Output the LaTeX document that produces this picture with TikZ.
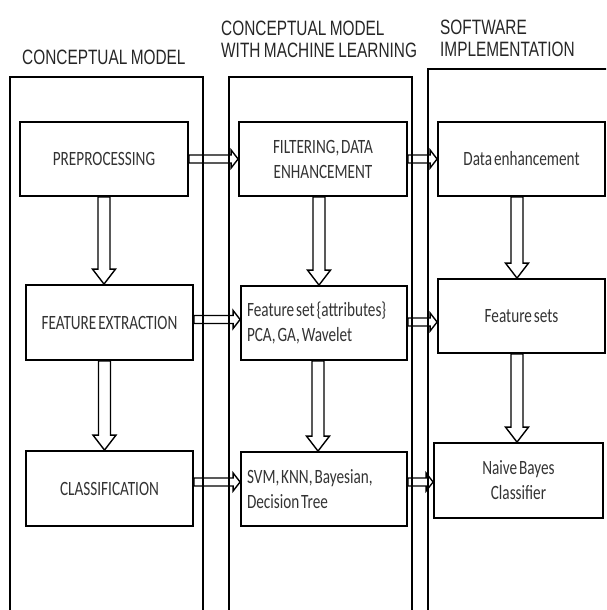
\documentclass[tikz,border=0pt]{standalone}
\usepackage{fontspec}
\newfontfamily\boxfont[FakeStretch=0.75,WordSpace=0.55]{Carlito}
\newfontfamily\titlefont[FakeStretch=0.74,WordSpace=0.8]{Liberation Sans}
\usetikzlibrary{calc}
\frenchspacing
\begin{document}
\begin{tikzpicture}[x=1pt,y=-1pt,
  box/.style={draw, line width=1.8pt, inner sep=0pt, align=center,
    font=\boxfont\fontsize{20.3}{25}\selectfont, text=black!80},
  lbox/.style={box, align=flush left, inner xsep=6pt, text width=154pt},
  title/.style={inner sep=0pt, align=left,
    font=\titlefont\fontsize{20.8}{22}\selectfont, text=black!85},
  col/.style={draw, line width=1.7pt},
  blk/.style={draw, line width=1.4pt, line join=miter},
  vblock/.style={to path={let \p1=(\tikztostart), \p2=(\tikztotarget) in
    (\x2-6pt,\y1) -- (\x2-6pt,\y2+15pt) -- (\x2-11.5pt,\y2+15pt) -- (\x2,\y2)
    -- (\x2+11.5pt,\y2+15pt) -- (\x2+6pt,\y2+15pt) -- (\x2+6pt,\y1) -- cycle}},
  hblock/.style={to path={let \p1=(\tikztostart), \p2=(\tikztotarget) in
    (\x1,\y2+4pt) -- (\x2-7pt,\y2+4pt) -- (\x2-7pt,\y2+9pt) -- (\x2,\y2)
    -- (\x2-7pt,\y2-9pt) -- (\x2-7pt,\y2-4pt) -- (\x1,\y2-4pt) -- cycle}}
]
\useasboundingbox (0,0) rectangle (606,610);

% titles
\node[title, anchor=base west] (t1) at (22,65) {CONCEPTUAL MODEL};
\node[title, anchor=north west] (t2) at (221,21) {CONCEPTUAL MODEL\\WITH MACHINE LEARNING};
\node[title, anchor=north west] (t3) at (440,20) {SOFTWARE\\IMPLEMENTATION};

% column 1
\node[box, minimum width=168, minimum height=74] (pre) at (104,159) {PREPROCESSING};
\node[box, minimum width=167, minimum height=75] (fe) at (109.5,322.5) {FEATURE EXTRACTION};
\node[box, minimum width=167, minimum height=75] (cls) at (109.5,488.5) {CLASSIFICATION};

% column 2
\node[box, minimum width=168, minimum height=74] (filt) at (323,159) {FILTERING, DATA\\ENHANCEMENT};
\node[lbox, minimum width=166, minimum height=74] (fset) at (324,323) {Feature set \{attributes\}\\PCA, GA, Wavelet};
\node[lbox, minimum width=166, minimum height=74] (svm) at (324,489) {SVM, KNN, Bayesian,\\Decision Tree};

% column 3
\node[box, minimum width=167, minimum height=74] (data) at (521.5,159) {Data enhancement};
\node[box, minimum width=167, minimum height=74] (fs) at (521.5,316) {Feature sets};
\node[box, minimum width=169, minimum height=75] (nb) at (518.5,480.5) {Naive Bayes\\Classifier};

% vertical block arrows
\draw[blk, vblock] (pre.south) to ([xshift=-5.5pt]fe.north);
\draw[blk, vblock] (fe.south) to ([xshift=-5pt]cls.north);
\draw[blk, vblock] (filt.south) to ([xshift=-5pt]fset.north);
\draw[blk, vblock] (fset.south) to ([xshift=-6pt]svm.north);
\draw[blk, vblock] (data.south) to ([xshift=-4.5pt]fs.north);
\draw[blk, vblock] (fs.south) to ([xshift=-1.5pt]nb.north);

% horizontal block arrows
\draw[blk, hblock] (pre.east) to (filt.west);
\draw[blk, hblock] (filt.east) to (data.west);
\draw[blk, hblock] (fe.east) to ([yshift=3.5pt]fset.west);
\draw[blk, hblock] (fset.east) to ([yshift=-6pt]fs.west);
\draw[blk, hblock] (cls.east) to ([yshift=7pt]svm.west);
\draw[blk, hblock] (svm.east) to ([yshift=-1.5pt]nb.west);

% column frames
\begin{scope}
\clip (0,0) rectangle (606,610);
\draw[col] (10,77) rectangle (203,640);
\draw[col] (229,77) rectangle (412,640);
\draw[col] (428,69) rectangle (640,640);
\end{scope}
\end{tikzpicture}
\end{document}
